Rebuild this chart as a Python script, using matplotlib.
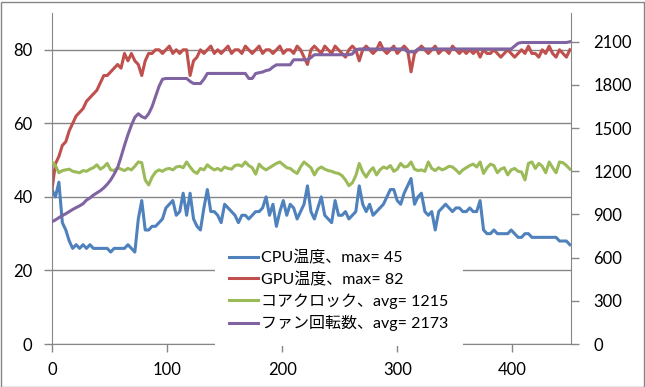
import numpy as np
import matplotlib
matplotlib.use('Agg')
import matplotlib.pyplot as plt
from matplotlib.patches import Rectangle

plt.rcParams['font.family'] = ['Lato', 'Noto Sans CJK JP', 'DejaVu Sans']

# samples read every 3 units of the x axis (0 .. 450)
step = 3

cpu_temp = [42, 40, 44, 33, 31, 28, 26, 27, 26, 27,
            26, 27, 26, 26, 26, 26, 26, 25, 26, 26,
            26, 26, 27, 26, 25, 34, 39, 31, 31, 32,
            32, 33, 34, 37, 38, 39, 35, 36, 41, 35,
            41, 34, 32, 31, 37, 42, 36, 36, 35, 33,
            38, 37, 36, 35, 33, 35, 35, 34, 35, 36,
            36, 37, 40, 35, 38, 32, 36, 39, 35, 38,
            37, 34, 36, 38, 43, 36, 34, 37, 40, 35,
            34, 33, 39, 35, 35, 36, 34, 35, 36, 43,
            38, 36, 38, 35, 36, 37, 38, 40, 42, 42,
            39, 38, 41, 43, 45, 38, 40, 41, 36, 35,
            36, 31, 36, 37, 38, 37, 36, 37, 37, 36,
            36, 37, 36, 36, 39, 31, 30, 30, 31, 30,
            30, 30, 30, 31, 30, 29, 29, 30, 30, 29,
            29, 29, 29, 29, 29, 29, 29, 28, 28, 28,
            27]

gpu_temp = [42, 49, 51, 54, 55, 58, 60, 62, 63, 64,
            66, 67, 68, 69, 71, 73, 73, 74, 75, 76,
            75, 79, 77, 79, 77, 76, 73, 77, 79, 79,
            80, 80, 79, 80, 81, 79, 80, 79, 80, 80,
            73, 77, 78, 80, 79, 80, 81, 79, 80, 79,
            80, 81, 79, 80, 80, 79, 81, 80, 79, 80,
            81, 79, 80, 80, 79, 80, 81, 79, 80, 80,
            79, 81, 80, 78, 76, 80, 81, 80, 79, 81,
            80, 79, 81, 80, 79, 78, 80, 81, 80, 77,
            80, 81, 80, 79, 80, 82, 80, 79, 80, 81,
            79, 80, 81, 80, 74, 79, 80, 81, 80, 79,
            80, 81, 79, 80, 80, 79, 81, 80, 79, 80,
            79, 80, 79, 80, 78, 80, 79, 79, 80, 79,
            78, 79, 80, 79, 78, 79, 80, 79, 81, 79,
            79, 78, 80, 79, 81, 79, 78, 80, 79, 78,
            80]

core_clock = [1265, 1240, 1190, 1205, 1210, 1215, 1200, 1195, 1190, 1205,
              1200, 1215, 1225, 1245, 1215, 1230, 1255, 1210, 1205, 1225,
              1215, 1205, 1220, 1210, 1235, 1265, 1260, 1140, 1105, 1160,
              1195, 1210, 1200, 1215, 1220, 1210, 1230, 1235, 1225, 1265,
              1230, 1200, 1185, 1220, 1210, 1245, 1225, 1210, 1220, 1205,
              1230, 1220, 1215, 1240, 1245, 1235, 1265, 1240, 1225, 1180,
              1250, 1225, 1210, 1225, 1240, 1255, 1265, 1245, 1225, 1220,
              1200, 1185, 1230, 1265, 1245, 1225, 1175, 1215, 1230, 1215,
              1205, 1200, 1190, 1185, 1170, 1140, 1100, 1120, 1170, 1255,
              1195, 1160, 1200, 1225, 1175, 1210, 1230, 1220, 1240, 1200,
              1215, 1255, 1230, 1235, 1265, 1215, 1205, 1210, 1200, 1265,
              1220, 1205, 1225, 1210, 1220, 1235, 1230, 1210, 1185, 1210,
              1225, 1240, 1250, 1230, 1265, 1185, 1225, 1250, 1240, 1190,
              1215, 1225, 1175, 1210, 1220, 1200, 1195, 1140, 1255, 1265,
              1220, 1255, 1235, 1190, 1265, 1225, 1190, 1265, 1260, 1240,
              1215]

fan_speed = [850, 862, 878, 893, 905, 920, 935, 948, 960, 975,
             1000, 1015, 1035, 1050, 1065, 1085, 1110, 1140, 1180, 1225,
             1300, 1380, 1455, 1520, 1575, 1600, 1580, 1570, 1600, 1650,
             1720, 1790, 1840, 1845, 1845, 1845, 1845, 1845, 1845, 1845,
             1825, 1810, 1810, 1810, 1840, 1880, 1880, 1880, 1880, 1880,
             1880, 1880, 1880, 1880, 1880, 1880, 1880, 1845, 1845, 1880,
             1885, 1890, 1900, 1905, 1925, 1940, 1940, 1940, 1940, 1940,
             1975, 1975, 1975, 1975, 1975, 1990, 2010, 2010, 2010, 2010,
             2010, 2010, 2010, 2010, 2010, 2010, 2010, 2015, 2045, 2050,
             2050, 2050, 2050, 2050, 2050, 2050, 2050, 2050, 2050, 2050,
             2050, 2050, 2050, 2030, 2030, 2030, 2050, 2050, 2050, 2050,
             2050, 2050, 2050, 2050, 2050, 2050, 2050, 2050, 2050, 2050,
             2050, 2050, 2050, 2050, 2050, 2050, 2050, 2050, 2050, 2050,
             2050, 2050, 2050, 2050, 2070, 2090, 2095, 2095, 2095, 2095,
             2095, 2095, 2095, 2095, 2095, 2095, 2095, 2095, 2095, 2095,
             2100]

labels = ['CPU温度、max= 45', 'GPU温度、max= 82',
          'コアクロック、avg= 1215', 'ファン回転数、avg= 2173']
colors = ['#4F81BD', '#C0504D', '#9BBB59', '#8064A2']

gray = '#868686'

fig = plt.figure(figsize=(6.45, 3.87), dpi=100)
ax = fig.add_axes([0.0806, 0.1111, 0.8047, 0.8553])
ax2 = ax.twinx()

lines = []
for vals, lab, c in [(cpu_temp, labels[0], colors[0]), (gpu_temp, labels[1], colors[1])]:
    x = np.arange(len(vals)) * step
    l, = ax.plot(x, vals, color=c, lw=2.2, label=lab, solid_joinstyle='round')
    lines.append(l)
for vals, lab, c in [(core_clock, labels[2], colors[2]), (fan_speed, labels[3], colors[3])]:
    x = np.arange(len(vals)) * step
    l, = ax2.plot(x, vals, color=c, lw=2.2, label=lab, solid_joinstyle='round')
    lines.append(l)

ax.set_xlim(0, 451)
ax.set_ylim(0, 90)
ax2.set_ylim(0, 2300)
ax.set_xticks([0, 100, 200, 300, 400])
ax.set_yticks([0, 20, 40, 60, 80])
ax2.set_yticks(np.arange(0, 2101, 300))
ax.grid(axis='y', color=gray, lw=1)
ax.set_axisbelow(True)

for a in (ax, ax2):
    a.spines['top'].set_visible(False)
    for s in ('left', 'right', 'bottom'):
        a.spines[s].set_color(gray)
    a.tick_params(colors=gray, labelcolor='black', labelsize=12, length=6, width=1)
ax.spines['right'].set_visible(False)
ax2.spines['left'].set_visible(False)
ax2.spines['bottom'].set_visible(False)
ax.tick_params(axis='y', pad=8)
ax.tick_params(axis='x', pad=7)
ax2.tick_params(axis='y', pad=10)

leg = ax2.legend(handles=lines, loc='upper left', bbox_to_anchor=(215 / 645, 1 - 236 / 387),
                 bbox_transform=fig.transFigure, fontsize=11.5, frameon=True,
                 fancybox=False, framealpha=1, edgecolor='none', facecolor='white',
                 handlelength=1.8, handletextpad=0.2, labelspacing=0.4, borderpad=0.9,
                 borderaxespad=0)
leg.set_zorder(10)

# outer chart border
fig.patches.append(Rectangle((0.5 / 645, 0.5 / 387), 1 - 2 / 645, 1 - 2 / 387,
                             transform=fig.transFigure, fill=False, edgecolor=gray, lw=1))

fig.savefig('out.png', dpi=100)
